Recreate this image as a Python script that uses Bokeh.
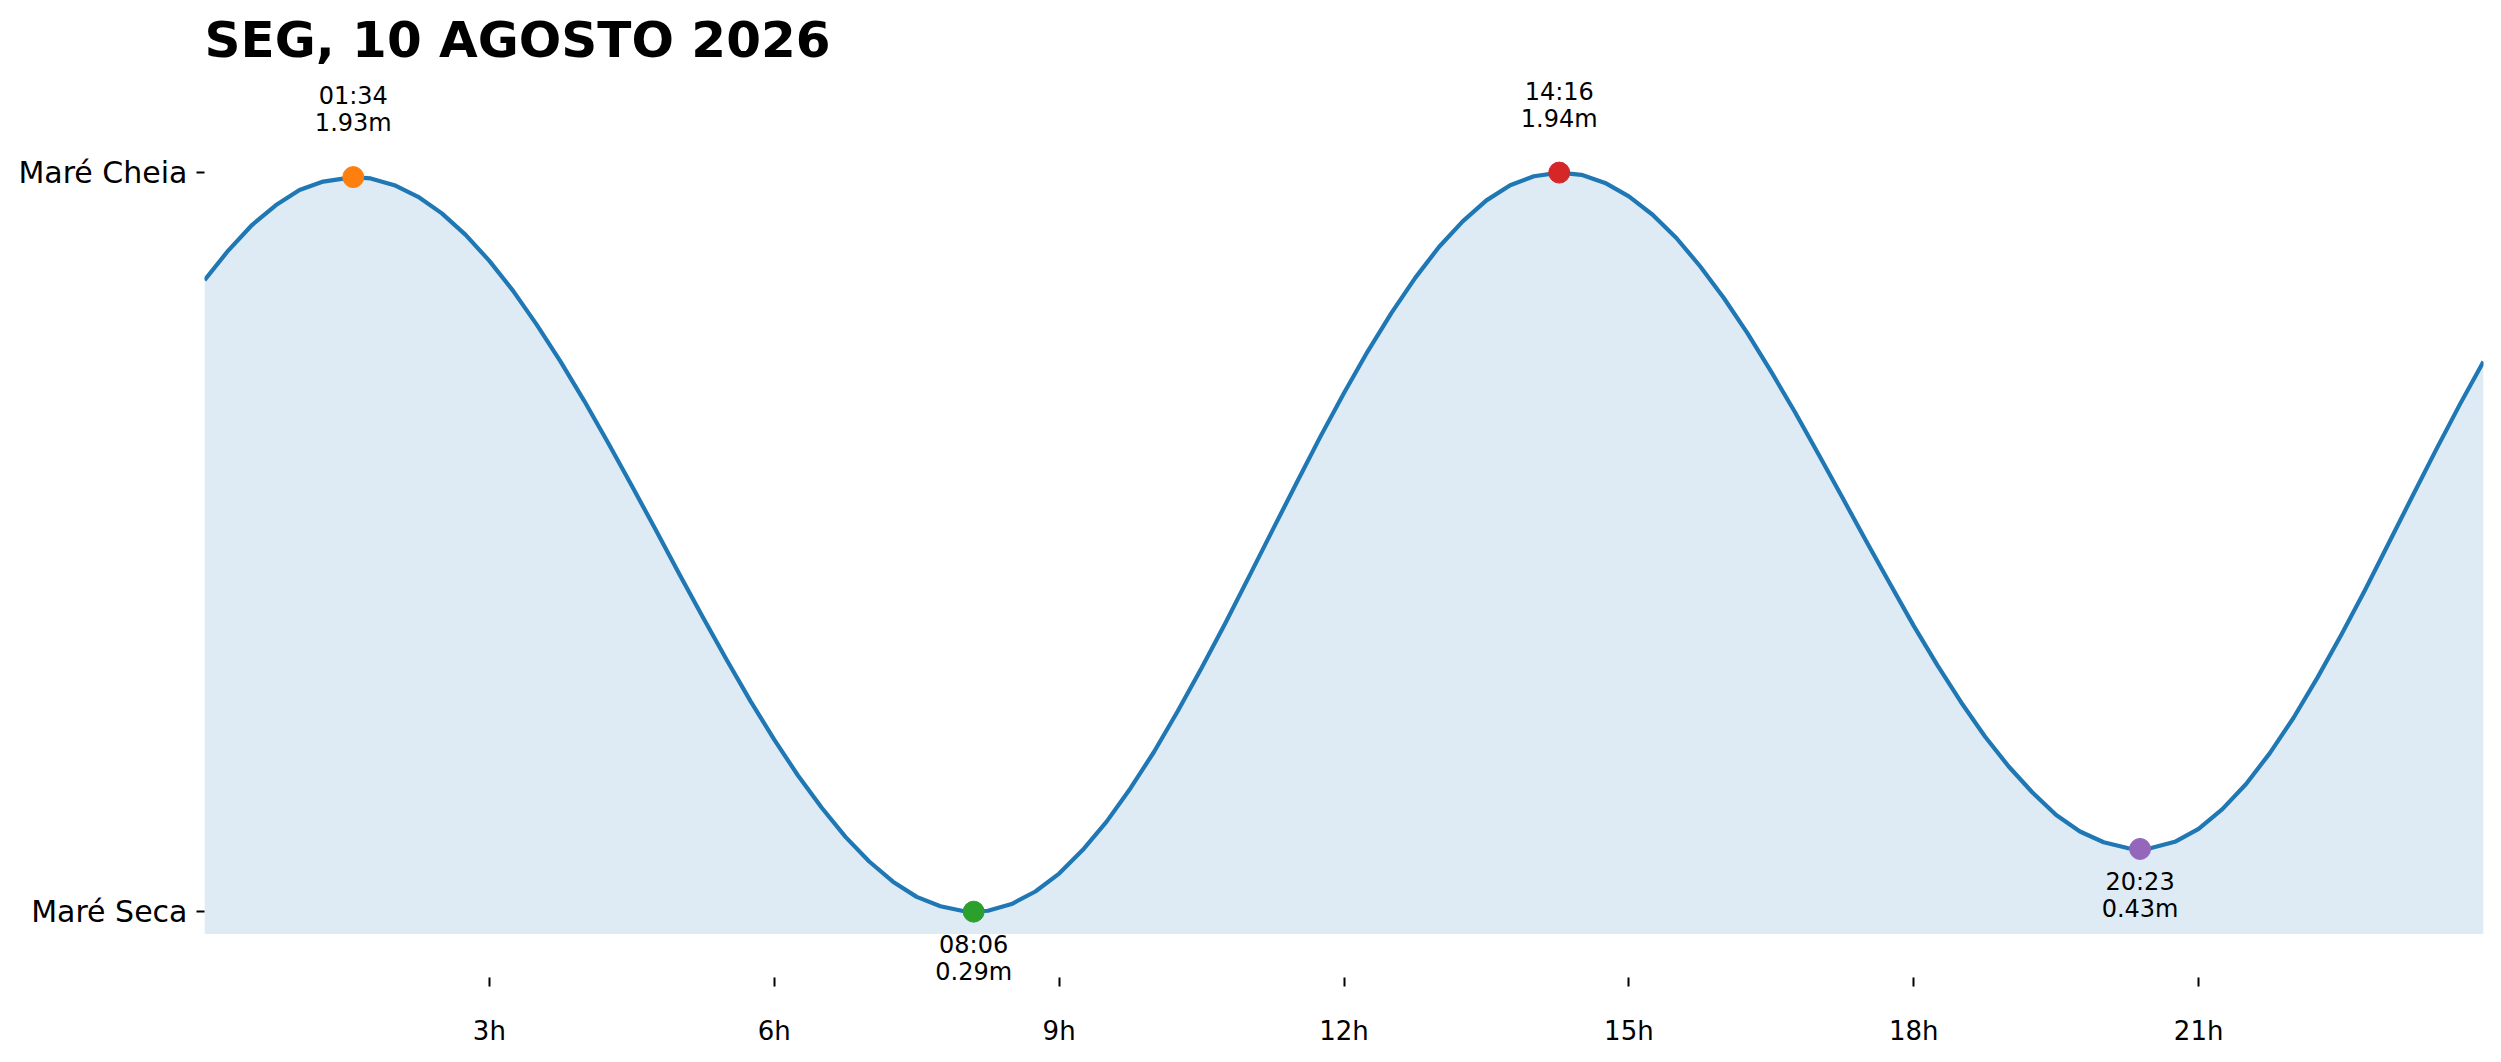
from bokeh.plotting import figure
from bokeh.models import FixedTicker, Range1d, Label
from bokeh.embed import file_html
from bokeh.resources import INLINE

# ---------------- data ----------------
title_text = "SEG, 10 AGOSTO 2026"

curve_hours = [0, 0.25, 0.5, 0.75, 1, 1.25, 1.567, 1.75, 2, 2.25, 2.5, 2.75, 3, 3.25,
               3.5, 3.75, 4, 4.25, 4.5, 4.75, 5, 5.25, 5.5, 5.75, 6, 6.25, 6.5, 6.75,
               7, 7.25, 7.5, 7.75, 8, 8.1, 8.25, 8.5, 8.75, 9, 9.25, 9.5, 9.75, 10,
               10.25, 10.5, 10.75, 11, 11.25, 11.5, 11.75, 12, 12.25, 12.5, 12.75, 13,
               13.25, 13.5, 13.75, 14, 14.267, 14.5, 14.75, 15, 15.25, 15.5, 15.75, 16,
               16.25, 16.5, 16.75, 17, 17.25, 17.5, 17.75, 18, 18.25, 18.5, 18.75, 19,
               19.25, 19.5, 19.75, 20, 20.25, 20.383, 20.5, 20.75, 21, 21.25, 21.5,
               21.75, 22, 22.25, 22.5, 22.75, 23, 23.25, 23.5, 23.75, 24]
curve_heights = [1.700, 1.766, 1.823, 1.867, 1.901, 1.920, 1.930, 1.927, 1.912, 1.886,
                 1.849, 1.801, 1.743, 1.676, 1.600, 1.518, 1.430, 1.337, 1.241, 1.143,
                 1.044, 0.947, 0.852, 0.760, 0.674, 0.594, 0.522, 0.457, 0.402, 0.357,
                 0.323, 0.302, 0.291, 0.290, 0.292, 0.307, 0.335, 0.375, 0.428, 0.491,
                 0.565, 0.647, 0.738, 0.834, 0.934, 1.038, 1.143, 1.247, 1.350, 1.448,
                 1.541, 1.627, 1.705, 1.774, 1.831, 1.878, 1.912, 1.932, 1.940, 1.935,
                 1.917, 1.887, 1.846, 1.794, 1.731, 1.660, 1.581, 1.495, 1.405, 1.310,
                 1.214, 1.117, 1.022, 0.928, 0.840, 0.757, 0.681, 0.614, 0.556, 0.506,
                 0.469, 0.445, 0.432, 0.430, 0.432, 0.446, 0.475, 0.519, 0.575, 0.644,
                 0.723, 0.812, 0.907, 1.007, 1.112, 1.217, 1.321, 1.422, 1.518]

extreme_times = ["01:34", "08:06", "14:16", "20:23"]
extreme_heights = [1.93, 0.29, 1.94, 0.43]
extreme_kinds = ["high", "low", "high", "low"]
extreme_colors = ["#ff7f0e", "#2ca02c", "#d62728", "#9467bd"]

x_tick_values = [3, 6, 9, 12, 15, 18, 21]
x_tick_labels = ["3h", "6h", "9h", "12h", "15h", "18h", "21h"]
y_tick_labels = ["Maré Seca", "Maré Cheia"]

# ---------------- derived ----------------
extreme_hours = [int(t[:2]) + int(t[3:]) / 60.0 for t in extreme_times]
height_texts = [f"{h:.2f}m" for h in extreme_heights]
y_tick_values = [min(curve_heights), max(curve_heights)]

FONT = "DejaVu Sans"
LINE_BLUE = "#1f77b4"

p = figure(frame_width=2279, frame_height=916,
           min_border_left=204, min_border_right=10,
           min_border_top=70, min_border_bottom=60,
           x_range=Range1d(0, 24), y_range=Range1d(0.1229, 2.168),
           output_backend="svg", toolbar_location=None,
           background_fill_color="white", border_fill_color="white")
p.outline_line_color = None
p.grid.visible = False

p.title.text = title_text
p.title.text_font = FONT
p.title.text_font_size = "50px"
p.title.text_font_style = "bold"
p.title.text_color = "black"
p.title.align = "left"
p.title.standoff = 3

# fill + line
fill_base = 0.24
p.varea(x=curve_hours, y1=fill_base, y2=curve_heights,
        fill_color=LINE_BLUE, fill_alpha=0.15)
p.line(curve_hours, curve_heights, line_color=LINE_BLUE, line_width=4.2,
       line_join="round")

# extremes
p.scatter(extreme_hours, extreme_heights, size=21,
          fill_color=extreme_colors, line_color=extreme_colors)

for xh, yh, tt, ht, kind in zip(extreme_hours, extreme_heights, extreme_times,
                                height_texts, extreme_kinds):
    offs = (81, 54) if kind == "high" else (-33, -60)
    for txt, off in zip((tt, ht), offs):
        p.add_layout(Label(x=xh, y=yh, text=txt, y_offset=off,
                           text_align="center", text_baseline="alphabetic",
                           text_font=FONT, text_font_size="24px",
                           text_color="black"))

# axes
xa = p.xaxis[0]
xa.ticker = FixedTicker(ticks=x_tick_values)
xa.major_label_overrides = {v: l for v, l in zip(x_tick_values, x_tick_labels)}
xa.minor_tick_line_color = None
xa.axis_line_color = None
xa.major_tick_in = 9
xa.major_tick_out = 0
xa.major_tick_line_width = 2
xa.major_tick_line_color = "black"
xa.major_label_standoff = 29
xa.major_label_text_font = FONT
xa.major_label_text_font_size = "26px"
xa.major_label_text_color = "black"

ya = p.yaxis[0]
ya.ticker = FixedTicker(ticks=y_tick_values)
ya.major_label_overrides = {v: l for v, l in zip(y_tick_values, y_tick_labels)}
ya.minor_tick_line_color = None
ya.axis_line_color = None
ya.major_tick_in = 0
ya.major_tick_out = 8
ya.major_tick_line_width = 2
ya.major_tick_line_color = "black"
ya.major_label_standoff = 9
ya.major_label_text_font = FONT
ya.major_label_text_font_size = "30px"
ya.major_label_text_color = "black"

open("out.html", "w").write(file_html(p, INLINE))
